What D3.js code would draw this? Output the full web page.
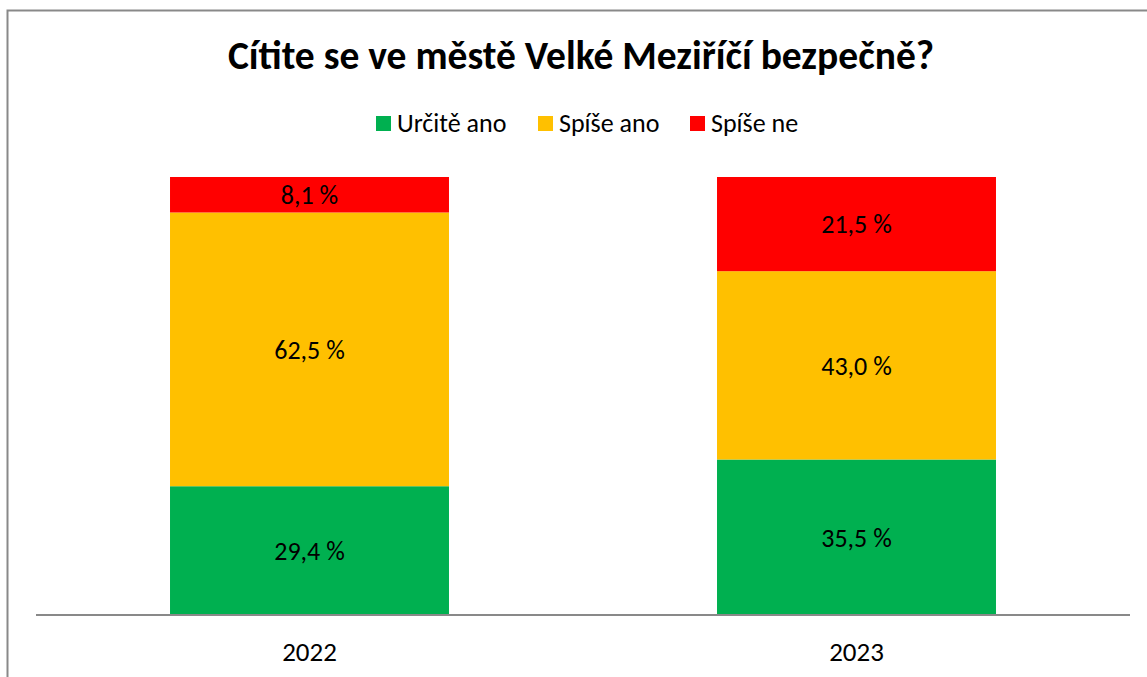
<!DOCTYPE html>
<html><head><meta charset="utf-8">
<script src="https://cdn.jsdelivr.net/npm/d3@7"></script>
<style>
html,body{margin:0;padding:0;background:#fff;}
svg{display:block;font-family:Carlito, Lato, "Open Sans", sans-serif;}
</style></head>
<body><svg id="c" width="1147" height="677"></svg>
<script>
const title = "Cítite se ve městě Velké Meziříčí bezpečně?";
const years = ["2022", "2023"];
const seriesNames = ["Určitě ano", "Spíše ano", "Spíše ne"];
const seriesColors = ["#00B050", "#FFC000", "#FF0000"];
const urciteAno = [29.4, 35.5];
const spiseAno = [62.5, 43.0];
const spiseNe = [8.1, 21.5];

const svg = d3.select("#c");
const W = 1147, H = 677;
// outer border
svg.append("rect").attr("x", 7.5).attr("y", 10.5).attr("width", W + 10).attr("height", H + 10)
  .attr("fill", "#fff").attr("stroke", "#898989").attr("stroke-width", 2);

const margin = {left: 36, right: 17, top: 177, bottom: 62};
const x = d3.scaleBand().domain(years).range([margin.left, W - margin.right]).paddingInner(0.49).paddingOuter(0.245);
const y = d3.scaleLinear().domain([0, 100]).range([H - margin.bottom, margin.top]);

const rows = years.map((yr, i) => ({year: yr, "Určitě ano": urciteAno[i], "Spíše ano": spiseAno[i], "Spíše ne": spiseNe[i]}));
const stack = d3.stack().keys(seriesNames)(rows);

const fmt = v => d3.format(".1f")(v).replace(".", ",") + " %";

stack.forEach((layer, li) => {
  const g = svg.append("g");
  g.selectAll("rect").data(layer).join("rect")
    .attr("x", d => x(d.data.year))
    .attr("width", x.bandwidth())
    .attr("y", d => y(d[1]))
    .attr("height", d => y(d[0]) - y(d[1]))
    .attr("fill", seriesColors[li]);
  g.selectAll("text").data(layer).join("text")
    .attr("x", d => x(d.data.year) + x.bandwidth() / 2)
    .attr("y", d => (y(d[0]) + y(d[1])) / 2)
    .attr("dy", "0.36em")
    .attr("text-anchor", "middle")
    .attr("font-size", 26)
    .attr("fill", "#000")
    .text(d => fmt(d[1] - d[0]));
});

// x axis
const xAxis = d3.axisBottom(x).tickSize(0).tickPadding(27);
const ax = svg.append("g").attr("transform", `translate(0,${y(0)})`).call(xAxis);
ax.select(".domain").attr("stroke", "#898989").attr("stroke-width", 2).attr("d", `M${margin.left},0H${W - margin.right}`);
ax.selectAll("text").attr("font-size", 27).attr("fill", "#000").attr("font-family", "Carlito, Lato, 'Open Sans', sans-serif");

// title
svg.append("text").attr("x", 581).attr("y", 69).attr("text-anchor", "middle")
  .attr("font-size", 39.5).attr("font-weight", "bold").attr("fill", "#000").text(title);

// legend
const legX = [376, 538, 690];
const lg = svg.append("g");
seriesNames.forEach((n, i) => {
  lg.append("rect").attr("x", legX[i]).attr("y", 116).attr("width", 15).attr("height", 15).attr("fill", seriesColors[i]);
  lg.append("text").attr("x", legX[i] + 21).attr("y", 132).attr("font-size", 26).attr("fill", "#000").text(n);
});
</script></body></html>
